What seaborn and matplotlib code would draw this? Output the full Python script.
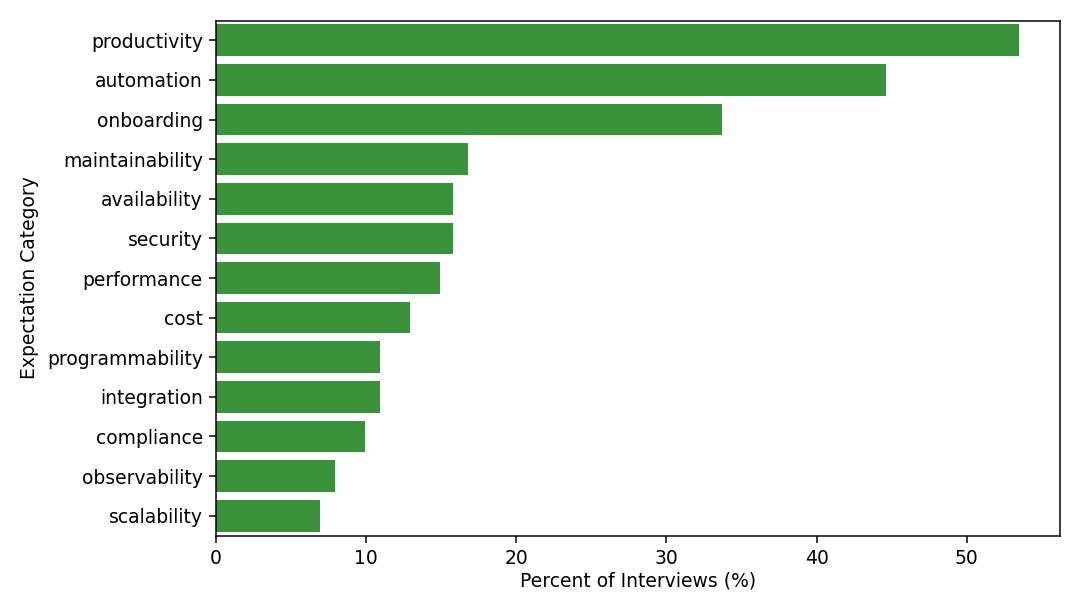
import matplotlib
matplotlib.use("Agg")
import matplotlib.pyplot as plt
import seaborn as sns
import pandas as pd

categories = ["productivity", "automation", "onboarding", "maintainability",
              "availability", "security", "performance", "cost",
              "programmability", "integration", "compliance",
              "observability", "scalability"]
percent = [53.5, 44.6, 33.7, 16.8, 15.8, 15.8, 14.9, 12.9, 10.9, 10.9, 9.9, 7.9, 6.9]

df = pd.DataFrame({"Expectation Category": categories,
                   "Percent of Interviews (%)": percent})

s = 1.35
plt.rcParams["font.family"] = ["DejaVu Sans"]
plt.rcParams["font.size"] = 10 * s
plt.rcParams["axes.linewidth"] = 0.8 * s
for a in ("xtick", "ytick"):
    plt.rcParams[f"{a}.major.size"] = 3.5 * s
    plt.rcParams[f"{a}.major.width"] = 0.8 * s
    plt.rcParams[f"{a}.major.pad"] = 3.5 * s

fig = plt.figure(figsize=(10.8, 6.14), dpi=100)
ax = fig.add_axes([216/1080, 1 - 535.5/614, (1059.5-216)/1080, (535.5-20.5)/614])
sns.barplot(data=df, y="Expectation Category", x="Percent of Interviews (%)",
            color="tab:green", ax=ax, orient="h")
ax.set_xlabel("Percent of Interviews (%)", labelpad=3.0)
ax.set_ylabel("Expectation Category", labelpad=5.4)
fig.savefig("out.png", dpi=100)
